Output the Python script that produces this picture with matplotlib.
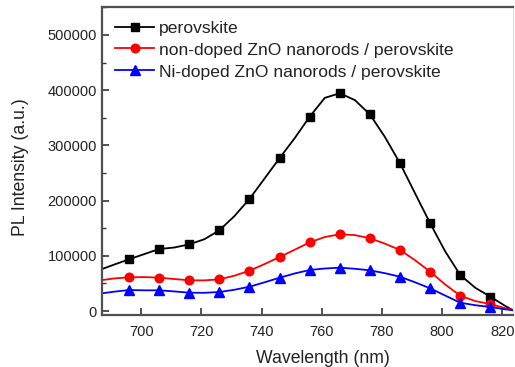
import matplotlib
matplotlib.use("Agg")
import matplotlib.pyplot as plt
from matplotlib.ticker import MultipleLocator

plt.rcParams["font.family"] = ["Liberation Sans", "DejaVu Sans"]

# PL spectra sampled every ~5 nm (markers every 10 nm starting at 696 nm)
wavelength = [687, 691, 696, 701, 706, 711, 716, 721, 726, 731, 736, 741, 746,
              751, 756, 761, 766, 771, 776, 781, 786, 791, 796, 801, 806, 811,
              816, 821, 824]
perovskite = [76000, 84000, 93700, 103000, 112300, 115000, 120800, 130000,
              146200, 172000, 203000, 240000, 277000, 313000, 352000, 386000,
              394400, 382000, 356000, 315000, 267500, 213000, 158900, 108000,
              65200, 42000, 26000, 9000, 0]
non_doped = [56000, 59000, 61000, 61500, 60400, 58000, 55600, 55500, 57400,
             64000, 73000, 85000, 97800, 111000, 124400, 134000, 139000,
             137500, 131700, 122000, 110500, 92000, 71200, 48000, 27700,
             18000, 12700, 5000, 1500]
ni_doped = [32000, 35000, 38000, 37500, 37500, 35500, 33200, 33000, 34400,
            38500, 44000, 52000, 60300, 68000, 74300, 77000, 78500, 76500,
            73700, 68500, 62100, 52000, 41100, 28000, 15000, 10500, 7200,
            3000, 1000]

labels = ["perovskite",
          "non-doped ZnO nanorods / perovskite",
          "Ni-doped ZnO nanorods / perovskite"]
colors = ["black", "red", "blue"]
markers = ["s", "o", "^"]
msizes = [5.8, 6.2, 6.6]

fig = plt.figure(figsize=(5.15, 3.67), dpi=100)
ax = fig.add_axes([0.198, 0.142, 0.798, 0.838])

marks = slice(2, 27, 2)
for y, lab, c, m, ms in zip([perovskite, non_doped, ni_doped], labels,
                            colors, markers, msizes):
    ax.plot(wavelength, y, color=c, lw=1.3, marker=m, markersize=ms,
            markevery=marks, label=lab)

ax.set_xlim(687, 823.5)
ax.set_ylim(-7000, 550000)
ax.xaxis.set_major_locator(MultipleLocator(20))
ax.yaxis.set_major_locator(MultipleLocator(100000))
ax.yaxis.set_minor_locator(MultipleLocator(50000))
ax.tick_params(axis="both", which="major", direction="in", length=5, width=1.2,
               labelsize=10.5, colors="#333333", labelcolor="#222222")
ax.tick_params(axis="x", which="major", pad=7)
ax.tick_params(axis="y", which="minor", direction="in", length=3, width=1.0,
               colors="#333333")
ax.tick_params(top=False, right=False)

for side in ["left", "bottom", "top"]:
    ax.spines[side].set_color("#505050")
    ax.spines[side].set_linewidth(1.6)
ax.spines["right"].set_color("#dddddd")
ax.spines["right"].set_linewidth(0.8)

ax.set_xlabel("Wavelength (nm)", fontsize=12.7, color="#222222")
ax.set_ylabel("PL Intensity (a.u.)", fontsize=12.7, color="#222222")
ax.xaxis.set_label_coords(0.538, -0.115)
ax.yaxis.set_label_coords(-0.178, 0.48)

ax.legend(loc="upper left", frameon=False, fontsize=12.6, handlelength=2.25,
          handletextpad=0.28, labelspacing=0.38, borderaxespad=0.35,
          labelcolor="#222222")

fig.savefig("out.png", dpi=100)
